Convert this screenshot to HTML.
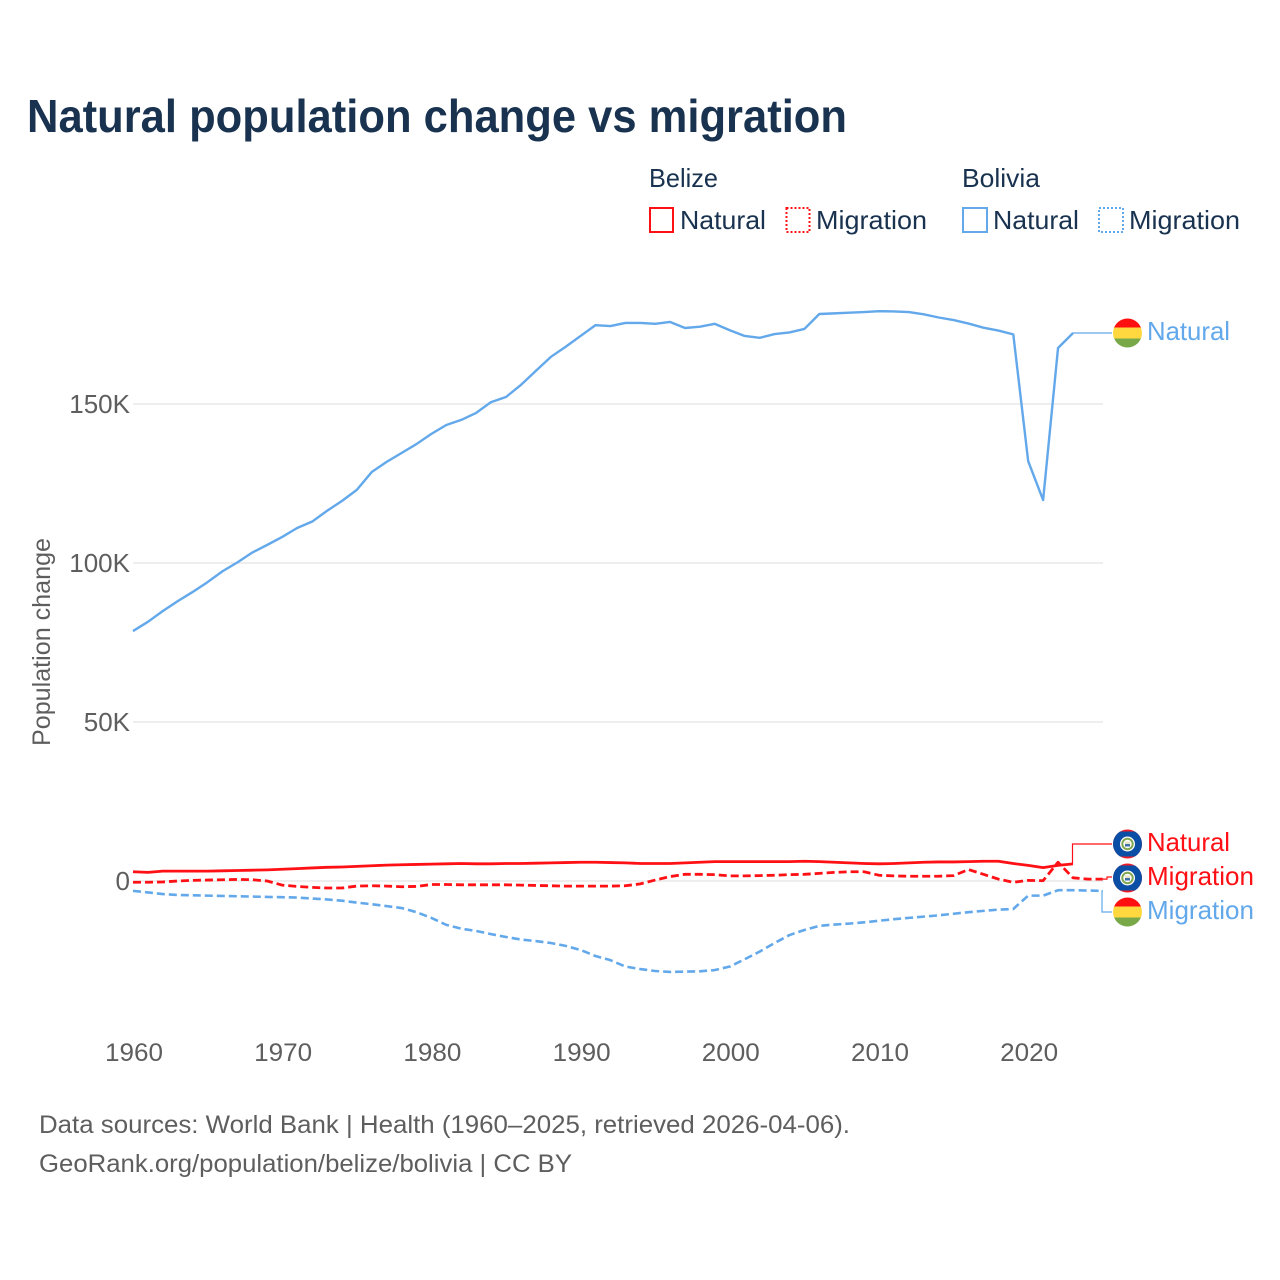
<!DOCTYPE html>
<html lang="en">
<head>
<meta charset="utf-8">
<title>Natural population change vs migration</title>
<style>
html,body{margin:0;padding:0;background:#fff;width:1280px;height:1280px;overflow:hidden}
svg{display:block}
text{font-family:"Liberation Sans",sans-serif}
</style>
</head>
<body>
<svg id="chart" width="1280" height="1280" viewBox="0 0 1280 1280" xmlns="http://www.w3.org/2000/svg">
  <defs>
    <clipPath id="flag-clip"><circle cx="0" cy="0" r="14.5"/></clipPath>
    <g id="flag-bolivia">
      <g clip-path="url(#flag-clip)">
        <rect x="-15" y="-15" width="30" height="10" fill="#ff1010"/>
        <rect x="-15" y="-5.5" width="30" height="11" fill="#ffd83f"/>
        <rect x="-15" y="5.5" width="30" height="10" fill="#78a848"/>
      </g>
    </g>
    <g id="flag-belize">
      <g clip-path="url(#flag-clip)">
        <rect x="-15" y="-15" width="30" height="30" fill="#ee1c25"/>
        <rect x="-15" y="-12.5" width="30" height="25" fill="#0a4ea6"/>
        <circle r="7.5" fill="#ffffff"/>
        <circle r="5.2" fill="none" stroke="#7fa650" stroke-width="2"/>
        <rect x="-2.5" y="-2.5" width="5" height="2.5" fill="#e8e4c8"/>
        <rect x="-2.5" y="0" width="5" height="2.5" fill="#3d6fa8"/>
      </g>
    </g>
  </defs>

  <rect x="0" y="0" width="1280" height="1280" fill="#ffffff"/>

  <text x="27" y="132" font-size="46" font-weight="700" fill="#18324f" textLength="820" lengthAdjust="spacingAndGlyphs">Natural population change vs migration</text>

  <g font-size="26" fill="#18324f">
    <text x="649" y="187" textLength="69" lengthAdjust="spacingAndGlyphs">Belize</text>
    <text x="962" y="187" textLength="78" lengthAdjust="spacingAndGlyphs">Bolivia</text>
    <g>
      <rect x="650" y="208" width="23" height="24" fill="none" stroke="#ff1015" stroke-width="2"/>
      <text x="680" y="229" textLength="86" lengthAdjust="spacingAndGlyphs">Natural</text>
    </g>
    <g>
      <rect x="786.5" y="208" width="23" height="24" fill="none" stroke="#ff1015" stroke-width="2" stroke-dasharray="2 2"/>
      <text x="816" y="229" textLength="111" lengthAdjust="spacingAndGlyphs">Migration</text>
    </g>
    <g>
      <rect x="963" y="208" width="24" height="24" fill="none" stroke="#62a8ea" stroke-width="2"/>
      <text x="993" y="229" textLength="86" lengthAdjust="spacingAndGlyphs">Natural</text>
    </g>
    <g>
      <rect x="1099" y="208" width="24" height="24" fill="none" stroke="#62a8ea" stroke-width="2" stroke-dasharray="2 2"/>
      <text x="1129" y="229" textLength="111" lengthAdjust="spacingAndGlyphs">Migration</text>
    </g>
  </g>

  <text transform="translate(50,642) rotate(-90)" text-anchor="middle" font-size="25" fill="#5e5e5e" textLength="208" lengthAdjust="spacingAndGlyphs">Population change</text>

  <g id="grid"></g>
  <g id="yticks"></g>
  <g id="xticks"></g>
  <g id="series"></g>

  <g font-size="26">
    <use href="#flag-bolivia" x="1127.5" y="333"/>
    <text x="1147" y="340" fill="#62a8ea" textLength="83" lengthAdjust="spacingAndGlyphs">Natural</text>
    <use href="#flag-belize" x="1127.5" y="844"/>
    <text x="1147" y="851" fill="#ff1015" textLength="83" lengthAdjust="spacingAndGlyphs">Natural</text>
    <use href="#flag-bolivia" x="1127.5" y="912"/>
    <text x="1147" y="919" fill="#62a8ea" textLength="107" lengthAdjust="spacingAndGlyphs">Migration</text>
    <use href="#flag-belize" x="1127.5" y="878"/>
    <text x="1147" y="885" fill="#ff1015" textLength="107" lengthAdjust="spacingAndGlyphs">Migration</text>
  </g>

  <g font-size="25" fill="#5e5e5e">
    <text x="39" y="1133" textLength="811" lengthAdjust="spacingAndGlyphs">Data sources: World Bank | Health (1960–2025, retrieved 2026-04-06).</text>
    <text x="39" y="1172" textLength="533" lengthAdjust="spacingAndGlyphs">GeoRank.org/population/belize/bolivia | CC BY</text>
  </g>

<script>
const startYear = 1960;
const yTickValues = [0, 50, 100, 150];
const yTickLabels = ["0", "50K", "100K", "150K"];
const xTickValues = [1960, 1970, 1980, 1990, 2000, 2010, 2020];
const boliviaNatural = [78.6,81.5,84.9,88,90.9,94,97.4,100.2,103.3,105.7,108.2,111,113,116.4,119.5,123,128.6,131.8,134.6,137.4,140.6,143.4,145,147.2,150.6,152.2,156,160.4,164.8,168,171.4,174.8,174.5,175.5,175.5,175.2,175.8,173.9,174.3,175.2,173.2,171.4,170.8,172,172.5,173.6,178.3,178.5,178.7,178.9,179.2,179.1,178.9,178.2,177.2,176.4,175.3,174,173.1,171.9,132,119.8,167.6,172.3];
const belizeNatural = [2.9,2.7,3.1,3.1,3.1,3.1,3.2,3.3,3.4,3.5,3.7,3.9,4.1,4.3,4.4,4.6,4.8,5,5.1,5.2,5.3,5.4,5.5,5.4,5.4,5.5,5.5,5.6,5.7,5.8,5.9,5.9,5.8,5.7,5.5,5.5,5.5,5.7,5.9,6.1,6.1,6.1,6.1,6.1,6.1,6.2,6.1,5.9,5.7,5.5,5.4,5.5,5.7,5.9,6,6,6.1,6.2,6.2,5.5,4.9,4.2,4.9,5.4];
const belizeMigration = [-0.4,-0.4,-0.3,0,0.2,0.3,0.4,0.5,0.4,0,-1.3,-1.7,-2,-2.2,-2.2,-1.6,-1.5,-1.6,-1.8,-1.7,-1.1,-1.1,-1.2,-1.2,-1.2,-1.2,-1.3,-1.4,-1.5,-1.6,-1.6,-1.6,-1.6,-1.5,-0.9,0.3,1.4,2.1,2.1,2,1.6,1.6,1.7,1.8,2,2.1,2.4,2.7,2.9,2.9,1.8,1.6,1.5,1.5,1.5,1.7,3.6,2.1,0.6,-0.4,0.2,0.1,5.9,1,0.6,0.6];
const boliviaMigration = [-3.1,-3.6,-4.1,-4.4,-4.5,-4.6,-4.7,-4.8,-4.9,-5,-5.1,-5.2,-5.5,-5.8,-6.2,-6.8,-7.3,-7.9,-8.5,-9.8,-11.6,-13.8,-15,-15.7,-16.7,-17.6,-18.4,-18.9,-19.5,-20.4,-21.7,-23.6,-24.9,-26.9,-27.7,-28.3,-28.6,-28.5,-28.4,-28,-26.9,-24.6,-22.2,-19.5,-17,-15.4,-14.1,-13.7,-13.4,-13,-12.5,-12,-11.6,-11.2,-10.8,-10.3,-9.8,-9.4,-9,-8.8,-4.6,-4.6,-2.9,-2.9,-3,-3.1];

const NS = "http://www.w3.org/2000/svg";
function xScale(year){ return 133 + (year - 1960) * 14.92; }
function yScale(k){ return 881 - k * 3.18; }
function linePath(values){
  return values.map(function(v, i){
    return (i ? "L" : "M") + xScale(startYear + i).toFixed(2) + " " + yScale(v).toFixed(2);
  }).join(" ");
}
function lastPoint(values){
  const i = values.length - 1;
  return [xScale(startYear + i), yScale(values[i])];
}

const gridGroup = document.getElementById("grid");
const yTickGroup = document.getElementById("yticks");
const xTickGroup = document.getElementById("xticks");
const seriesGroup = document.getElementById("series");

yTickValues.forEach(function(v, i){
  const line = document.createElementNS(NS, "line");
  
  
  line.setAttribute("x1", 133);
  line.setAttribute("x2", 1103);
  line.setAttribute("y1", yScale(v));
  line.setAttribute("y2", yScale(v));
  line.setAttribute("stroke", "#e4e4e4");
  line.setAttribute("stroke-width", 1.2);
  gridGroup.appendChild(line);

  const label = document.createElementNS(NS, "text");
  
  
  label.setAttribute("x", 130);
  label.setAttribute("y", yScale(v) + 9);
  label.setAttribute("text-anchor", "end");
  label.setAttribute("font-size", 26);
  label.setAttribute("fill", "#5e5e5e");
  label.textContent = yTickLabels[i];
  yTickGroup.appendChild(label);
});

xTickValues.forEach(function(year){
  const label = document.createElementNS(NS, "text");
  
  
  label.setAttribute("x", xScale(year) + 1);
  label.setAttribute("y", 1061);
  label.setAttribute("text-anchor", "middle");
  label.setAttribute("font-size", 25);
  label.setAttribute("fill", "#5e5e5e");
  label.setAttribute("textLength", 58);
  label.setAttribute("lengthAdjust", "spacingAndGlyphs");
  label.textContent = String(year);
  xTickGroup.appendChild(label);
});

function addSeries(name, values, color, dash, width){
  const path = document.createElementNS(NS, "path");
  
  
  path.setAttribute("d", linePath(values));
  path.setAttribute("fill", "none");
  path.setAttribute("stroke", color);
  path.setAttribute("stroke-width", width);
  path.setAttribute("stroke-linejoin", "round");
  if (dash) path.setAttribute("stroke-dasharray", dash);
  seriesGroup.appendChild(path);
}
function addConnector(name, values, color, elbowX, labelY){
  const end = lastPoint(values);
  const conn = document.createElementNS(NS, "path");
  
  
  conn.setAttribute("d", "M" + end[0].toFixed(2) + " " + end[1].toFixed(2) + " H" + elbowX + " V" + labelY + " H1112");
  conn.setAttribute("fill", "none");
  conn.setAttribute("stroke", color);
  conn.setAttribute("stroke-width", 1.2);
  seriesGroup.appendChild(conn);
}

addSeries("line-bolivia-natural", boliviaNatural, "#62a8ea", null, 2.4);
addSeries("line-bolivia-migration", boliviaMigration, "#62a8ea", "8 4", 2.6);
addSeries("line-belize-natural", belizeNatural, "#ff1015", null, 2.8);
addSeries("line-belize-migration", belizeMigration, "#ff1015", "8 4", 2.8);
addConnector("connector-bolivia-natural", boliviaNatural, "#62a8ea", 1073, 333);
addConnector("connector-belize-natural", belizeNatural, "#ff1015", 1072.5, 844);
addConnector("connector-belize-migration", belizeMigration, "#ff1015", 1107, 877);
addConnector("connector-bolivia-migration", boliviaMigration, "#62a8ea", 1102, 912);
</script>
</svg>
</body>
</html>
